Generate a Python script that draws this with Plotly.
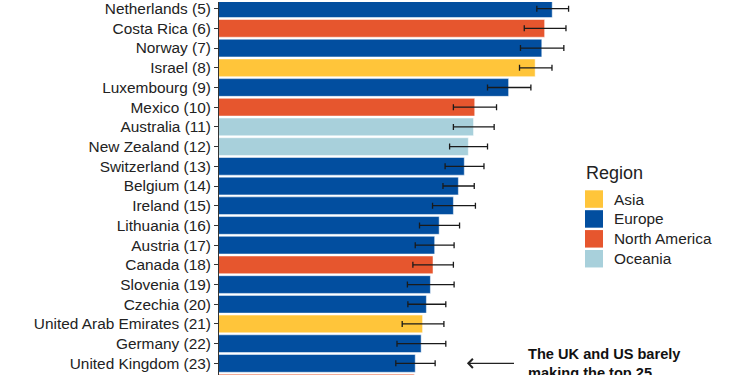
import plotly.graph_objects as go

# ---- data ----
countries = ["Netherlands", "Costa Rica", "Norway", "Israel", "Luxembourg", "Mexico",
             "Australia", "New Zealand", "Switzerland", "Belgium", "Ireland", "Lithuania",
             "Austria", "Canada", "Slovenia", "Czechia", "United Arab Emirates", "Germany",
             "United Kingdom", "United States"]
ranks = [5, 6, 7, 8, 9, 10, 11, 12, 13, 14, 15, 16, 17, 18, 19, 20, 21, 22, 23, 24]
regions = ["Europe", "North America", "Europe", "Asia", "Europe", "North America",
           "Oceania", "Oceania", "Europe", "Europe", "Europe", "Europe",
           "Europe", "North America", "Europe", "Europe", "Asia", "Europe",
           "Europe", "North America"]
scores = [7.306, 7.274, 7.262, 7.234, 7.122, 6.979, 6.974, 6.952, 6.935, 6.910,
          6.889, 6.829, 6.810, 6.803, 6.792, 6.775, 6.759, 6.753, 6.728, 6.724]
lower = [7.241, 7.188, 7.172, 7.168, 7.033, 6.889, 6.889, 6.873, 6.854, 6.845,
         6.801, 6.746, 6.728, 6.718, 6.695, 6.697, 6.673, 6.651, 6.646, 6.640]
upper = [7.375, 7.364, 7.355, 7.305, 7.216, 7.071, 7.061, 7.033, 7.018, 6.977,
         6.982, 6.915, 6.892, 6.889, 6.892, 6.857, 6.849, 6.857, 6.812, 6.810]

region_order = ["Asia", "Europe", "North America", "Oceania"]
region_colors = {"Asia": "#FFC53A", "Europe": "#024E9F",
                 "North America": "#E6562E", "Oceania": "#A8D0DB"}

W, H = 750, 375
ML = 219
PW = W - ML

fig = go.Figure()
for reg in region_order:
    idx = [i for i, r in enumerate(regions) if r == reg]
    fig.add_trace(go.Bar(
        orientation="h",
        y=[ranks[i] for i in idx],
        x=[scores[i] for i in idx],
        width=0.9,
        name=reg,
        marker=dict(color=region_colors[reg], line=dict(color="white", width=0.5)),
        error_x=dict(type="data", symmetric=False,
                     array=[upper[i] - scores[i] for i in idx],
                     arrayminus=[scores[i] - lower[i] for i in idx],
                     color="#1a1a1a", thickness=1.3, width=3),
        showlegend=False,
        hoverinfo="x+y",
    ))

ticktext = [f"{c} ({r})" for c, r in zip(countries, ranks)]

fig.update_layout(
    width=W, height=H,
    margin=dict(l=ML, r=0, t=0, b=0),
    paper_bgcolor="white", plot_bgcolor="white",
    font=dict(family="Liberation Sans, Arial, sans-serif", color="#222222"),
    barmode="overlay",
    xaxis=dict(range=[5.9, 5.9 + PW / 237.0], showgrid=False, zeroline=False,
               showticklabels=False, showline=False, ticks=""),
    yaxis=dict(range=[23.59, 4.662], tickmode="array", tickvals=ranks, ticktext=ticktext,
               showgrid=False, zeroline=False, showline=True, linecolor="#333333",
               linewidth=1, ticks="outside", ticklen=4, tickcolor="#333333",
               ticklabeloverflow="allow",
               tickfont=dict(size=15.4, color="#222222")),
)

# ---- legend drawn in paper coordinates ----
def px_x(p):
    return (p - ML) / PW

def px_y(p):
    return (H - p) / H

fig.add_annotation(xref="paper", yref="paper", x=px_x(584), y=px_y(172),
                   text="Region", showarrow=False, xanchor="left", yanchor="middle",
                   font=dict(size=18, color="#222222"))
for k, reg in enumerate(region_order):
    top = 189.3 + k * 20
    fig.add_shape(type="rect", xref="paper", yref="paper",
                  x0=px_x(585), x1=px_x(603), y0=px_y(top + 17.6), y1=px_y(top),
                  fillcolor=region_colors[reg], line=dict(width=0))
    fig.add_annotation(xref="paper", yref="paper", x=px_x(612), y=px_y(top + 8.8),
                       text=reg, showarrow=False, xanchor="left", yanchor="middle",
                       font=dict(size=15.4, color="#222222"))

# ---- callout ----
fig.add_annotation(x=6.946, y=23, ax=7.151, ay=23, xref="x", yref="y",
                   axref="x", ayref="y", text="", showarrow=True,
                   arrowhead=4, arrowsize=1.6, arrowwidth=1.1, arrowcolor="#222222")
fig.add_annotation(x=7.197, y=23, xref="x", yref="y",
                   text="<b>The UK and US barely<br>making the top 25</b>",
                   showarrow=False, xanchor="left", yanchor="middle", align="left",
                   font=dict(size=14.6, color="#111111"))

fig.write_html("out.html", post_script="document.body.style.margin='0px';",
               config={"displayModeBar": False})
